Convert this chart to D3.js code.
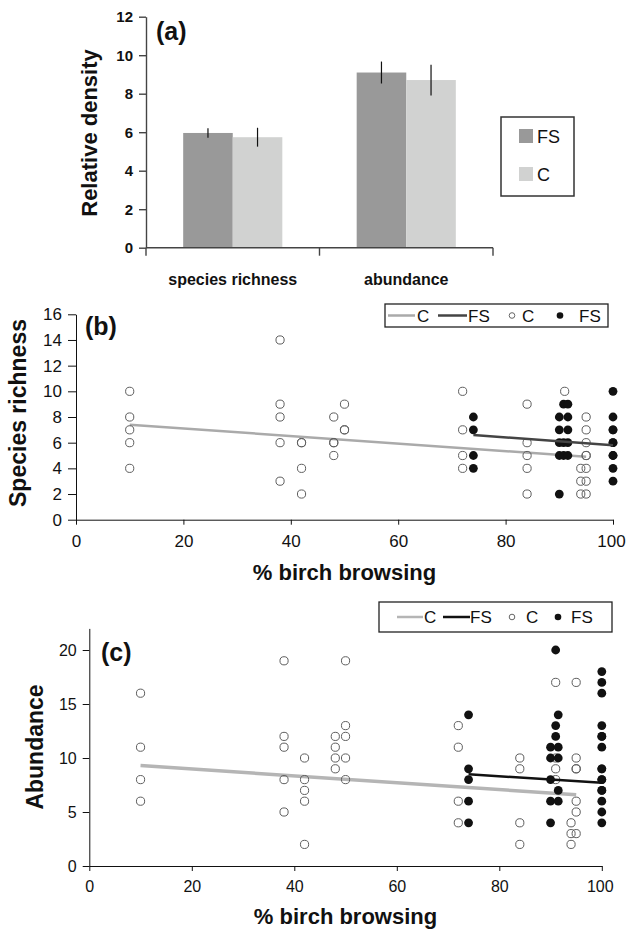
<!DOCTYPE html>
<html>
<head>
<meta charset="utf-8">
<script src="https://cdn.jsdelivr.net/npm/d3@7"></script>
<style>
    body { margin: 0; background: #fff; }
    text { font-family: "Liberation Sans", Arial, sans-serif; fill: #111; }
    .axis path, .axis line { stroke: #111; }
    .axisA path, .axisA line { stroke: #444; stroke-width: 1.4; }
</style>
</head>
<body>
<div id="main"></div>
<script>
const ctx = {
    SVG_W: 626,
    SVG_H: 929,
};

// panel (a) bars
const BAR_CATEGORIES = ["species richness", "abundance"];
const BAR_SERIES = ["FS", "C"];
const BAR_MEAN_FS = [5.96, 9.1];
const BAR_MEAN_C = [5.74, 8.71];
const BAR_SE_FS = [0.25, 0.57];
const BAR_SE_C = [0.49, 0.8];
const BAR_TICKS = [0, 2, 4, 6, 8, 10, 12];

// shared x axis of (b) and (c)
const BROWSE_TICKS = [0, 20, 40, 60, 80, 100];

// panel (b) species richness: [browsing %, [values]]
const RICH_TICKS = [0, 2, 4, 6, 8, 10, 12, 14, 16];
const RICH_C = [
    [10, [10, 8, 7, 6, 4]],
    [38, [14, 9, 8, 6, 3]],
    [42, [6, 6, 4, 2]],
    [48, [8, 6, 6, 5]],
    [50, [9, 7, 7]],
    [72, [10, 7, 5, 4]],
    [84, [9, 6, 5, 4, 2]],
    [91, [10]],
    [94, [4, 3, 2]],
    [95, [8, 7, 6, 5, 5, 4, 3, 2]],
];
const RICH_FS = [
    [74, [8, 7, 5, 4]],
    [90, [8, 7, 6, 5, 2]],
    [90.8, [9, 6, 5]],
    [91.6, [9, 8, 7, 6, 5]],
    [100, [10, 8, 7, 7, 6, 6, 5, 5, 4, 3]],
];
const RICH_FIT_C = [[10, 7.4], [95, 4.9]];
const RICH_FIT_FS = [[74, 6.6], [100, 5.8]];

// panel (c) abundance
const ABUND_TICKS = [0, 5, 10, 15, 20];
const ABUND_C = [
    [10, [16, 11, 8, 6]],
    [38, [19, 12, 11, 8, 5]],
    [42, [10, 8, 7, 6, 2]],
    [48, [12, 11, 10, 9]],
    [50, [19, 13, 12, 10, 8]],
    [72, [13, 11, 6, 4]],
    [84, [10, 9, 4, 2]],
    [91, [17, 10, 9, 8]],
    [94, [4, 3, 2]],
    [95, [17, 10, 9, 9, 6, 5, 3]],
];
const ABUND_FS = [
    [74, [14, 9, 8, 6, 4]],
    [90, [11, 10, 8, 6, 4]],
    [91, [20, 13, 12]],
    [91.5, [14, 11, 10, 7, 6]],
    [100, [18, 17, 16, 13, 12, 12, 11, 9, 9, 8, 8, 7, 7, 6, 5, 4]],
];
const ABUND_FIT_C = [[10, 9.3], [95, 6.6]];
const ABUND_FIT_FS = [[74, 8.5], [100, 7.7]];

function flatten(groups) {
    let pts = [];
    groups.forEach(g => g[1].forEach(v => pts.push([g[0], v])));
    return pts;
}

function drawBars(svgEl) {
    let x0 = d3.scaleBand().domain(BAR_CATEGORIES).range([146, 493]);
    let x1 = d3.scaleBand().domain(BAR_SERIES).range([0, x0.bandwidth()]).paddingOuter(0.75);
    let y = d3.scaleLinear().domain([0, 12]).range([247.7, 16.7]);
    let color = { FS: "#999999", C: "#d1d2d1" };

    let rows = [];
    BAR_CATEGORIES.forEach((c, i) => {
        rows.push({ cat: c, s: "FS", v: BAR_MEAN_FS[i], se: BAR_SE_FS[i] });
        rows.push({ cat: c, s: "C", v: BAR_MEAN_C[i], se: BAR_SE_C[i] });
    });

    let g = svgEl.append("g");
    g.selectAll("rect")
        .data(rows)
        .enter()
        .append("rect")
        .attr("x", d => x0(d.cat) + x1(d.s))
        .attr("y", d => y(d.v))
        .attr("width", x1.bandwidth())
        .attr("height", d => y(0) - y(d.v))
        .attr("fill", d => color[d.s]);

    g.selectAll("line.err")
        .data(rows)
        .enter()
        .append("line")
        .attr("class", "err")
        .attr("x1", d => x0(d.cat) + x1(d.s) + x1.bandwidth() / 2)
        .attr("x2", d => x0(d.cat) + x1(d.s) + x1.bandwidth() / 2)
        .attr("y1", d => y(d.v - d.se))
        .attr("y2", d => y(d.v + d.se))
        .attr("stroke", "#111")
        .attr("stroke-width", 1.2);

    let yAxis = svgEl.append("g")
        .attr("class", "axisA")
        .attr("transform", "translate(146,0)")
        .call(d3.axisLeft(y).tickValues(BAR_TICKS).tickSize(7).tickPadding(6).tickSizeOuter(0));
    yAxis.selectAll("text")
        .attr("font-size", 15)
        .attr("font-weight", "bold");

    // x axis with ticks at the category borders
    let bounds = [146, x0(BAR_CATEGORIES[1]), 493];
    svgEl.append("line")
        .attr("x1", 146).attr("x2", 493)
        .attr("y1", y(0)).attr("y2", y(0))
        .attr("stroke", "#444").attr("stroke-width", 1.4);
    svgEl.selectAll("line.cb")
        .data(bounds)
        .enter()
        .append("line")
        .attr("class", "cb")
        .attr("x1", d => d).attr("x2", d => d)
        .attr("y1", y(0)).attr("y2", y(0) + 8)
        .attr("stroke", "#444").attr("stroke-width", 1.4);

    svgEl.selectAll("text.cat")
        .data(BAR_CATEGORIES)
        .enter()
        .append("text")
        .attr("class", "cat")
        .attr("x", d => x0(d) + x0.bandwidth() / 2)
        .attr("y", 285)
        .attr("text-anchor", "middle")
        .attr("font-size", 16)
        .attr("font-weight", "bold")
        .text(d => d);

    svgEl.append("text")
        .attr("x", 156).attr("y", 40)
        .attr("font-size", 25).attr("font-weight", "bold")
        .text("(a)");

    svgEl.append("text")
        .attr("transform", "translate(89,133) rotate(-90)")
        .attr("text-anchor", "middle")
        .attr("dominant-baseline", "central")
        .attr("font-size", 22).attr("font-weight", "bold")
        .text("Relative density");

    // legend
    let leg = svgEl.append("g");
    leg.append("rect")
        .attr("x", 501).attr("y", 117).attr("width", 73).attr("height", 79)
        .attr("fill", "none").attr("stroke", "#333").attr("stroke-width", 1.5);
    leg.selectAll("rect.sw")
        .data(BAR_SERIES)
        .enter()
        .append("rect")
        .attr("class", "sw")
        .attr("x", 519)
        .attr("y", (d, i) => 129 + i * 38)
        .attr("width", 14).attr("height", 14)
        .attr("fill", d => color[d]);
    leg.selectAll("text")
        .data(BAR_SERIES)
        .enter()
        .append("text")
        .attr("x", 537)
        .attr("y", (d, i) => 143 + i * 38)
        .attr("font-size", 18)
        .text(d => d);
}

function drawScatter(svgEl, cfg) {
    let x = d3.scaleLinear().domain([0, 100]).range(cfg.xRange);
    let y = d3.scaleLinear().domain(cfg.yDomain).range(cfg.yRange);

    let xAxis = svgEl.append("g")
        .attr("class", "axis")
        .attr("transform", "translate(0," + cfg.yRange[0] + ")")
        .call(d3.axisBottom(x).tickValues(BROWSE_TICKS).tickSize(5).tickPadding(cfg.xPad).tickSizeOuter(0));
    xAxis.selectAll("text").attr("font-size", cfg.tickFont);
    // keep "100" inside the page edge
    xAxis.selectAll("text").filter(d => d === 100).attr("dx", -2);

    let yAxis = svgEl.append("g")
        .attr("class", "axis")
        .attr("transform", "translate(" + cfg.xRange[0] + ",0)")
        .call(d3.axisLeft(y).tickValues(cfg.yTicks).tickSize(cfg.yTick).tickPadding(6).tickSizeOuter(0));
    yAxis.selectAll("text").attr("font-size", cfg.tickFont);

    let line = d3.line().x(d => x(d[0])).y(d => y(d[1]));
    svgEl.append("path")
        .attr("d", line(cfg.fitC))
        .attr("fill", "none")
        .attr("stroke", cfg.colC)
        .attr("stroke-width", cfg.wC);

    svgEl.append("g").selectAll("circle")
        .data(flatten(cfg.ptsC))
        .enter()
        .append("circle")
        .attr("cx", d => x(d[0]))
        .attr("cy", d => y(d[1]))
        .attr("r", 4.1)
        .attr("fill", "none")
        .attr("stroke", "#5e5e5e")
        .attr("stroke-width", 1);

    svgEl.append("g").selectAll("circle")
        .data(flatten(cfg.ptsFS))
        .enter()
        .append("circle")
        .attr("cx", d => x(d[0]))
        .attr("cy", d => y(d[1]))
        .attr("r", 4.4)
        .attr("fill", "#111");

    svgEl.append("path")
        .attr("d", line(cfg.fitFS))
        .attr("fill", "none")
        .attr("stroke", cfg.colFS)
        .attr("stroke-width", cfg.wFS);

    svgEl.append("text")
        .attr("x", cfg.tag[0]).attr("y", cfg.tag[1])
        .attr("font-size", 25).attr("font-weight", "bold")
        .text(cfg.tagText);

    svgEl.append("text")
        .attr("x", (cfg.xRange[0] + cfg.xRange[1]) / 2)
        .attr("y", cfg.xTitleY)
        .attr("text-anchor", "middle")
        .attr("font-size", 22).attr("font-weight", "bold")
        .text("% birch browsing");

    svgEl.append("text")
        .attr("transform", "translate(" + cfg.yTitle[0] + "," + cfg.yTitle[1] + ") rotate(-90)")
        .attr("text-anchor", "middle")
        .attr("dominant-baseline", "central")
        .attr("font-size", 23).attr("font-weight", "bold")
        .text(cfg.yTitleText);

    // legend: line C, line FS, open C, filled FS
    let L = cfg.legend;
    let leg = svgEl.append("g");
    leg.append("rect")
        .attr("x", L.box[0]).attr("y", L.box[1]).attr("width", L.box[2]).attr("height", L.box[3])
        .attr("fill", "#fff").attr("stroke", "#222").attr("stroke-width", 1.3);
    let cy = L.box[1] + L.box[3] / 2;
    leg.append("line")
        .attr("x1", L.lineC[0]).attr("x2", L.lineC[1]).attr("y1", cy).attr("y2", cy)
        .attr("stroke", cfg.colC).attr("stroke-width", 2.5);
    leg.append("line")
        .attr("x1", L.lineFS[0]).attr("x2", L.lineFS[1]).attr("y1", cy).attr("y2", cy)
        .attr("stroke", cfg.colFS).attr("stroke-width", 2.5);
    leg.append("circle")
        .attr("cx", L.dotC).attr("cy", cy).attr("r", 2.8)
        .attr("fill", "none").attr("stroke", "#666");
    leg.append("circle")
        .attr("cx", L.dotFS).attr("cy", cy).attr("r", 3.3)
        .attr("fill", "#111");
    leg.selectAll("text")
        .data(["C", "FS", "C", "FS"])
        .enter()
        .append("text")
        .attr("x", (d, i) => L.text[i])
        .attr("y", cy + 6)
        .attr("font-size", 17)
        .text(d => d);
}

function createViz() {
    let svgEl = d3.select("#main").append("svg");
    svgEl.attr("width", ctx.SVG_W);
    svgEl.attr("height", ctx.SVG_H);

    drawBars(svgEl);

    drawScatter(svgEl, {
        xRange: [76, 613], yRange: [519.7, 314.3], yDomain: [0, 16], yTicks: RICH_TICKS,
        yTick: 8, xPad: 10, tickFont: 17,
        ptsC: RICH_C, ptsFS: RICH_FS, fitC: RICH_FIT_C, fitFS: RICH_FIT_FS,
        colC: "#aaaaaa", colFS: "#444444", wC: 2.5, wFS: 2.5,
        tag: [85, 335], tagText: "(b)",
        xTitleY: 580, yTitle: [18, 413], yTitleText: "Species richness",
        legend: { box: [385, 304, 223, 23], lineC: [388, 415], lineFS: [438, 467],
                  dotC: 512, dotFS: 560, text: [417, 468, 522, 579] },
    });

    drawScatter(svgEl, {
        xRange: [89.3, 601.8], yRange: [866, 628.4], yDomain: [0, 22], yTicks: ABUND_TICKS,
        yTick: 6.6, xPad: 9.5, tickFont: 16,
        ptsC: ABUND_C, ptsFS: ABUND_FS, fitC: ABUND_FIT_C, fitFS: ABUND_FIT_FS,
        colC: "#b5b5b5", colFS: "#111111", wC: 3.5, wFS: 2.5,
        tag: [101, 661], tagText: "(c)",
        xTitleY: 924, yTitle: [35, 747], yTitleText: "Abundance",
        legend: { box: [379, 602, 233, 30], lineC: [397, 423], lineFS: [443, 470],
                  dotC: 512, dotFS: 558, text: [424, 470, 526, 571] },
    });
}

createViz();
</script>
</body>
</html>
